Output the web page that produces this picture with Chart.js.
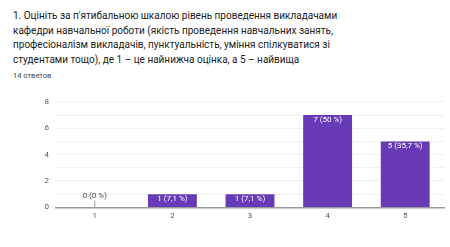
<!DOCTYPE html>
<html lang="uk">
<head>
  <meta charset="UTF-8">
  <title>Оцінка</title>
  <style>
    body { margin: 0; background: #fff; font-family: Roboto, Arial, sans-serif; }
    .q { position: absolute; left: 13px; top: 9px; white-space: nowrap; font-size: 10px; line-height: 14.5px; color: #202124; }
    .cnt { position: absolute; left: 13px; top: 71px; font-size: 7.5px; color: #444; }
    .box { position: absolute; left: 0; top: 90px; width: 450px; height: 135px; }
  </style>
</head>
<body>
  <div class="q">1. Оцініть за п'ятибальною шкалою рівень проведення викладачами<br>кафедри навчальної роботи (якість проведення навчальних занять,<br>професіоналізм викладачів, пунктуальність, уміння спілкуватися зі<br>студентами тощо), де 1 – це найнижча оцінка, а 5 – найвища</div>
  <div class="cnt">14 ответов</div>
  <div class="box"><canvas id="chart"></canvas></div>

  <script src="https://cdn.jsdelivr.net/npm/chart.js"></script>
  <script>
    const categories = ['1', '2', '3', '4', '5'];
    const counts = [0, 1, 1, 7, 5];
    const percents = [0, 7.1, 7.1, 50, 35.7];
    const yTicks = [0, 2, 4, 6, 8];

    const barLabels = {
      id: 'barLabels',
      afterDatasetsDraw(chart) {
        const ctx = chart.ctx;
        const meta = chart.getDatasetMeta(0);
        ctx.save();
        ctx.font = '8px Roboto, Arial, sans-serif';
        ctx.textAlign = 'center';
        ctx.textBaseline = 'middle';
        meta.data.forEach((bar, i) => {
          const text = counts[i] + ' (' + String(percents[i]).replace('.', ',') + ' %)';
          if (counts[i] === 0) {
            ctx.strokeStyle = '#999';
            ctx.lineWidth = 1;
            ctx.beginPath();
            ctx.moveTo(bar.x, bar.y - 7);
            ctx.lineTo(bar.x, bar.y);
            ctx.stroke();
            ctx.fillStyle = '#444';
            ctx.fillText(text, bar.x, bar.y - 11);
          } else {
            ctx.fillStyle = '#fff';
            ctx.fillText(text, bar.x, bar.y + 5);
          }
        });
        ctx.restore();
      }
    };

    new Chart(document.getElementById('chart'), {
      type: 'bar',
      data: {
        labels: categories,
        datasets: [{
          data: counts,
          backgroundColor: '#673ab7',
          categoryPercentage: 0.63,
          barPercentage: 1
        }]
      },
      options: {
        responsive: true,
        maintainAspectRatio: false,
        animation: false,
        layout: { padding: { top: 6, right: 6, left: 0, bottom: 0 } },
        plugins: { legend: { display: false }, tooltip: { enabled: false } },
        scales: {
          x: {
            grid: { display: false, drawTicks: false },
            border: { color: '#999', width: 1.5 },
            ticks: { color: '#555', font: { size: 8, family: 'Roboto' }, padding: 4 }
          },
          y: {
            min: 0,
            max: 8,
            afterFit(scale) { scale.width = 56; },
            grid: { color: '#f0f0f0', drawTicks: false },
            border: { display: false },
            ticks: {
              stepSize: 1,
              color: '#555',
              font: { size: 8, family: 'Roboto' },
              padding: 7,
              callback: v => yTicks.includes(v) ? v : ''
            }
          }
        }
      },
      plugins: [barLabels]
    });
  </script>
</body>
</html>
